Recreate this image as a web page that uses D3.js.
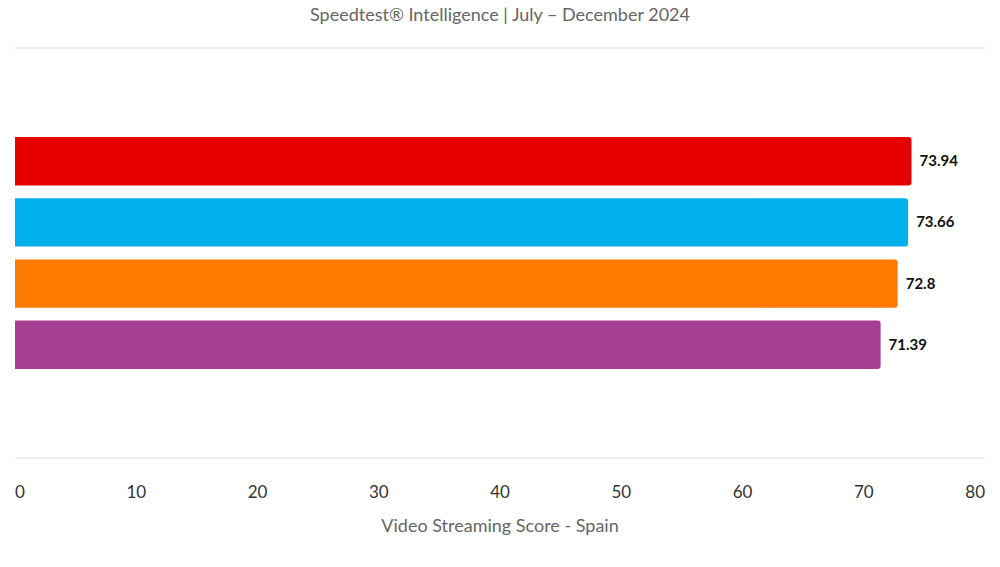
<!DOCTYPE html>
<html><head><meta charset="utf-8">
<script src="https://cdn.jsdelivr.net/npm/d3@7"></script>
<style>body{margin:0;background:#fff;font-family:Lato,"Noto Sans",sans-serif}</style>
</head><body><svg id="c" width="1000" height="567"></svg>
<script>
const categories = ["A","B","C","D"];
const values = [73.94, 73.66, 72.8, 71.39];
const labels = ["73.94","73.66","72.8","71.39"];
const colors = ["#e60000","#00b0ec","#ff7a00","#a63e91"];
const ticks = [0,10,20,30,40,50,60,70,80];

const svg = d3.select("#c");
const x = d3.scaleLinear().domain([0,80]).range([15,985]);
const y = d3.scaleBand().domain(categories).range([131,375]).paddingInner(0.21).paddingOuter(0.1);

svg.append("text").attr("x",500).attr("y",21).attr("text-anchor","middle")
  .attr("fill","#666").attr("font-size",18).text("Speedtest® Intelligence | July – December 2024");
[48,458].forEach(v=>svg.append("line").attr("x1",15).attr("x2",985).attr("y1",v).attr("y2",v).attr("stroke","#ddd"));

const r=3;
svg.selectAll("path.bar").data(categories).join("path").attr("class","bar")
  .attr("fill",(d,i)=>colors[i])
  .attr("d",(d,i)=>{const x0=x(0),x1=x(values[i]),y0=y(d),h=y.bandwidth();
    return `M${x0},${y0}H${x1-r}Q${x1},${y0} ${x1},${y0+r}V${y0+h-r}Q${x1},${y0+h} ${x1-r},${y0+h}H${x0}Z`;});
svg.selectAll("text.val").data(categories).join("text").attr("class","val")
  .attr("x",(d,i)=>x(values[i])+8).attr("y",d=>y(d)+y.bandwidth()/2+5)
  .attr("font-size",15).attr("font-weight","bold").attr("fill","#111").text((d,i)=>labels[i]);

svg.selectAll("text.tick").data(ticks).join("text").attr("class","tick")
  .attr("x",d=>x(d)).attr("y",498).attr("font-size",17).attr("fill","#333")
  .attr("text-anchor",(d,i)=>i==0?"start":i==ticks.length-1?"end":"middle").text(d=>d);
svg.append("text").attr("x",500).attr("y",532).attr("text-anchor","middle")
  .attr("fill","#666").attr("font-size",18).text("Video Streaming Score - Spain");
</script></body></html>
